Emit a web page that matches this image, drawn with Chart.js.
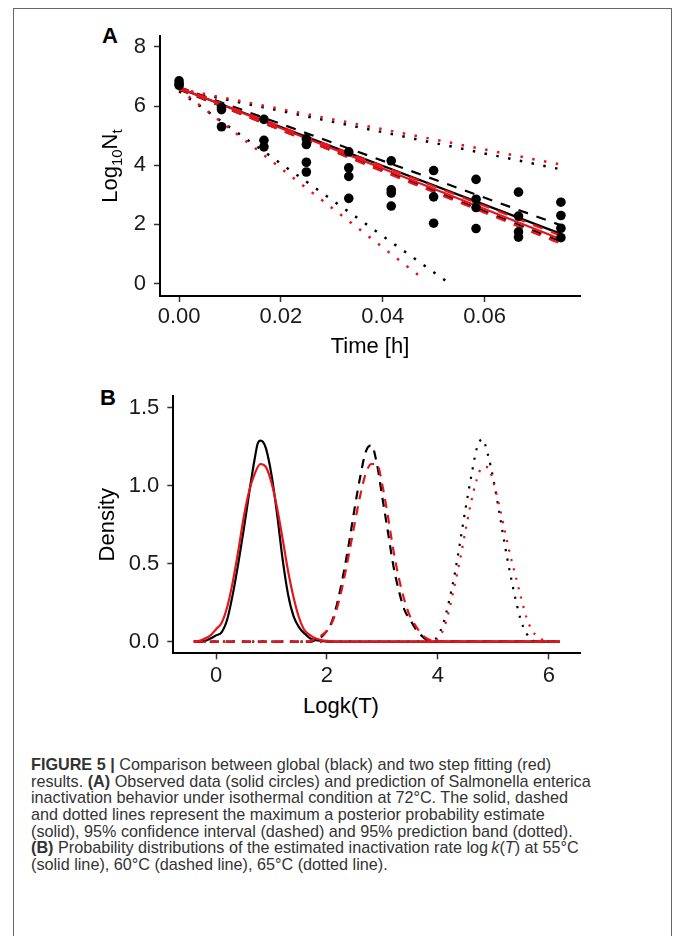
<!DOCTYPE html>
<html>
<head>
<meta charset="utf-8">
<script src="https://cdn.jsdelivr.net/npm/chart.js@4.4.1/dist/chart.umd.min.js"></script>
<style>
  body { margin: 0; background: #fff; font-family: 'Liberation Sans', Arial, sans-serif; }
  #frame { position: absolute; left: 13px; top: 8px; width: 657px; height: 940px; border: 1.5px solid #666; }
  canvas { position: absolute; }
  #chartA { left: 40px; top: 15px; }
  #chartB { left: 40px; top: 375px; }
  .panel { position: absolute; font-weight: bold; font-size: 22px; line-height: 1; color: #000; }
  #xTitleB { position: absolute; left: 241px; top: 693px; width: 200px; text-align: center; font-size: 22px; line-height: 26px; color: #000; }
  #caption { position: absolute; left: 31px; top: 756px; font-size: 16.2px; line-height: 16.65px; color: #333; white-space: nowrap; }
</style>
</head>
<body>
<div id="frame"></div>
<div class="panel" style="left:102px; top:25px;">A</div>
<div class="panel" style="left:100px; top:387px;">B</div>
<canvas id="chartA" width="560" height="350"></canvas>
<canvas id="chartB" width="560" height="315"></canvas>
<div id="xTitleB">Logk(T)</div>
<div id="caption">
<b>FIGURE 5 |</b> Comparison between global (black) and two step fitting (red)<br>
results. <b>(A)</b> Observed data (solid circles) and prediction of Salmonella enterica<br>
inactivation behavior under isothermal condition at 72°C. The solid, dashed<br>
and dotted lines represent the maximum a posterior probability estimate<br>
(solid), 95% confidence interval (dashed) and 95% prediction band (dotted).<br>
<b>(B)</b> Probability distributions of the estimated inactivation rate log&#8201;<i>k</i>(<i>T</i>) at 55°C<br>
(solid line), 60°C (dashed line), 65°C (dotted line).
</div>
<script>
// ---- panel A: observed data at 72°C ----
const obsTime = [0, 0, 0,
    0.00833, 0.00833, 0.00833,
    0.01667, 0.01667, 0.01667,
    0.025, 0.025, 0.025, 0.025,
    0.03333, 0.03333, 0.03333, 0.03333,
    0.04167, 0.04167, 0.04167, 0.04167,
    0.05, 0.05, 0.05,
    0.05833, 0.05833, 0.05833, 0.05833,
    0.06667, 0.06667, 0.06667, 0.06667,
    0.075, 0.075, 0.075, 0.075];
const obsLogN = [6.85, 6.75, 6.7,
    5.95, 5.88, 5.3,
    5.55, 4.84, 4.62,
    4.89, 4.7, 4.1, 3.77,
    4.45, 3.91, 3.62, 2.88,
    4.15, 3.17, 3.06, 2.62,
    3.82, 2.93, 2.04,
    3.52, 2.85, 2.57, 1.86,
    3.09, 2.28, 1.75, 1.57,
    2.75, 2.3, 1.87, 1.55];

// fitted lines (start and end of each line)
const fitTime = [0, 0.075];
const mapGlobal = [6.6, 1.68];
const mapTwoStep = [6.62, 1.5];
const ciGlobalUpper = [6.64, 1.97];
const ciGlobalLower = [6.56, 1.42];
const ciTwoStepUpper = [6.64, 1.62];
const ciTwoStepLower = [6.58, 1.35];
const pbGlobalUpper = [6.55, 3.86];
const pbTwoStepUpper = [6.58, 4.02];
const pbGlobalLowerTime = [0, 0.053];
const pbGlobalLower = [6.5, 0.02];
const pbTwoStepLowerTime = [0, 0.0472];
const pbTwoStepLower = [6.57, 0.26];

const timeTicks = [0, 0.02, 0.04, 0.06];
const logNTicks = [0, 2, 4, 6, 8];

// ---- panel B: densities of log k(T) ----
const solidGlobalX = [-0.4, -0.2, -0.1, 0, 0.1, 0.2, 0.3, 0.4, 0.5, 0.6, 0.7, 0.75, 0.8, 0.85, 0.9, 1.0, 1.1, 1.2, 1.3, 1.4, 1.5, 1.6, 1.7, 1.8, 1.9, 2.0, 6.2];
const solidGlobalY = [0, 0.005, 0.02, 0.04, 0.06, 0.14, 0.3, 0.5, 0.72, 0.96, 1.18, 1.27, 1.29, 1.28, 1.24, 1.07, 0.82, 0.53, 0.3, 0.16, 0.09, 0.05, 0.02, 0.01, 0.005, 0, 0];
const solidTwoStepX = [-0.4, -0.3, -0.2, -0.1, 0, 0.1, 0.2, 0.3, 0.4, 0.5, 0.6, 0.7, 0.8, 0.9, 1.0, 1.1, 1.2, 1.3, 1.4, 1.5, 1.6, 1.7, 1.8, 1.9, 2.0, 2.2, 6.2];
const solidTwoStepY = [0, 0.005, 0.02, 0.04, 0.08, 0.12, 0.22, 0.38, 0.58, 0.8, 0.97, 1.08, 1.14, 1.12, 1.02, 0.86, 0.66, 0.45, 0.28, 0.15, 0.07, 0.04, 0.02, 0.01, 0.005, 0, 0];
const dashedGlobalX = [-0.4, 1.7, 1.8, 1.9, 2.0, 2.1, 2.2, 2.3, 2.4, 2.5, 2.6, 2.7, 2.8, 2.9, 3.0, 3.1, 3.2, 3.3, 3.4, 3.5, 3.6, 3.7, 3.8, 3.9, 6.2];
const dashedGlobalY = [0, 0, 0.01, 0.03, 0.07, 0.14, 0.27, 0.44, 0.64, 0.86, 1.06, 1.22, 1.26, 1.14, 0.92, 0.7, 0.48, 0.32, 0.2, 0.14, 0.08, 0.04, 0.01, 0, 0];
const dashedTwoStepX = [-0.4, 1.6, 1.7, 1.8, 1.9, 2.0, 2.1, 2.2, 2.3, 2.4, 2.5, 2.6, 2.7, 2.8, 2.9, 3.0, 3.1, 3.2, 3.3, 3.4, 3.5, 3.6, 3.7, 3.8, 3.9, 4.0, 6.2];
const dashedTwoStepY = [0, 0, 0.005, 0.02, 0.04, 0.07, 0.13, 0.24, 0.39, 0.57, 0.76, 0.94, 1.08, 1.14, 1.14, 1.0, 0.8, 0.58, 0.4, 0.26, 0.16, 0.1, 0.05, 0.02, 0.005, 0, 0];
const dottedGlobalX = [-0.4, 3.9, 4.0, 4.1, 4.2, 4.3, 4.4, 4.5, 4.6, 4.7, 4.8, 4.9, 5.0, 5.1, 5.2, 5.3, 5.4, 5.5, 5.6, 5.7, 5.8, 6.2];
const dottedGlobalY = [0, 0, 0.04, 0.12, 0.26, 0.43, 0.64, 0.86, 1.06, 1.24, 1.3, 1.2, 1.04, 0.84, 0.63, 0.44, 0.27, 0.13, 0.05, 0.01, 0, 0];
const dottedTwoStepX = [-0.4, 3.9, 4.0, 4.1, 4.2, 4.3, 4.4, 4.5, 4.6, 4.7, 4.8, 4.9, 5.0, 5.1, 5.2, 5.3, 5.4, 5.5, 5.6, 5.7, 5.8, 5.9, 6.0, 6.2];
const dottedTwoStepY = [0, 0, 0.02, 0.08, 0.2, 0.36, 0.53, 0.72, 0.9, 1.04, 1.12, 1.12, 1.02, 0.88, 0.72, 0.56, 0.42, 0.28, 0.15, 0.07, 0.03, 0.01, 0, 0];

const logkTicks = [0, 2, 4, 6];
const densityTicks = [0, 0.5, 1.0, 1.5];

const RED = '#E8141B';
const BLACK = '#000000';
const FONT = "'Liberation Sans', Arial, sans-serif";

function zip(xs, ys) {
    return xs.map((x, i) => ({ x: x, y: ys[i] }));
}

function lineSet(xs, ys, color, dash, width) {
    return {
        data: zip(xs, ys),
        showLine: true,
        borderColor: color,
        borderWidth: width,
        borderDash: dash,
        pointRadius: 0,
        fill: false,
        cubicInterpolationMode: 'monotone'
    };
}

function axis(min, max, tickValues, fmt, extra) {
    return Object.assign({
        type: 'linear',
        min: min,
        max: max,
        afterBuildTicks: function (scale) {
            scale.ticks = tickValues.map(v => ({ value: v }));
        },
        ticks: {
            callback: fmt,
            color: '#1a1a1a',
            font: { family: FONT, size: 22 },
            autoSkip: false,
            maxRotation: 0
        },
        grid: { drawOnChartArea: false, drawTicks: true, tickLength: 6, tickWidth: 1.5, tickColor: '#333' },
        border: { display: true, color: '#000', width: 2 }
    }, extra);
}

// y title with subscripts for panel A
const subTitle = {
    id: 'subTitle',
    afterDraw(chart) {
        const ctx = chart.ctx;
        const parts = [['Log', 22, 0], ['10', 15, 5], ['N', 22, 0], ['t', 15, 5]];
        ctx.save();
        let total = 0;
        parts.forEach(p => { ctx.font = p[1] + 'px ' + FONT; total += ctx.measureText(p[0]).width; });
        ctx.translate(77, (chart.chartArea.top + chart.chartArea.bottom) / 2);
        ctx.rotate(-Math.PI / 2);
        ctx.fillStyle = '#000';
        ctx.textBaseline = 'alphabetic';
        let x = -total / 2;
        parts.forEach(p => {
            ctx.font = p[1] + 'px ' + FONT;
            ctx.fillText(p[0], x, p[2]);
            x += ctx.measureText(p[0]).width;
        });
        ctx.restore();
    }
};

new Chart(document.getElementById('chartA'), {
    type: 'scatter',
    data: {
        datasets: [
            { data: zip(obsTime, obsLogN), pointRadius: 4.8, pointBackgroundColor: BLACK, pointBorderWidth: 0, showLine: false },
            lineSet(fitTime, mapTwoStep, RED, [], 2.2),
            lineSet(fitTime, ciTwoStepUpper, RED, [10, 9], 2.2),
            lineSet(fitTime, ciTwoStepLower, RED, [10, 9], 2.2),
            lineSet(fitTime, pbTwoStepUpper, RED, [2.5, 9.5], 2.5),
            lineSet(pbTwoStepLowerTime, pbTwoStepLower, RED, [2.5, 9.5], 2.5),
            lineSet(fitTime, mapGlobal, BLACK, [], 2.2),
            lineSet(fitTime, ciGlobalUpper, BLACK, [10, 9], 2.2),
            lineSet(fitTime, ciGlobalLower, BLACK, [10, 9], 2.2),
            lineSet(fitTime, pbGlobalUpper, BLACK, [2.5, 9.5], 2.5),
            lineSet(pbGlobalLowerTime, pbGlobalLower, BLACK, [2.5, 9.5], 2.5)
        ]
    },
    options: {
        responsive: false,
        animation: false,
        devicePixelRatio: 1,
        layout: { padding: { left: 0, top: 12, right: 20, bottom: 4.4 } },
        plugins: { legend: { display: false }, tooltip: { enabled: false } },
        scales: {
            x: axis(-0.00375, 0.07875, timeTicks, v => v.toFixed(2), {
                afterFit: s => { s.height = 64.6; },
                title: { display: true, text: 'Time [h]', color: '#000', font: { family: FONT, size: 22 }, padding: { top: 0, bottom: 0 } }
            }),
            y: axis(-0.42, 8.36, logNTicks, v => String(v), {
                afterFit: s => { s.width = 120; }
            })
        }
    },
    plugins: [subTitle]
});
Chart.getChart('chartA').options.scales.x.ticks.padding = 2;
Chart.getChart('chartA').options.scales.y.ticks.padding = 8;
Chart.getChart('chartA').update();

new Chart(document.getElementById('chartB'), {
    type: 'scatter',
    data: {
        datasets: [
            lineSet(solidTwoStepX, solidTwoStepY, RED, [], 2.2),
            lineSet(dashedTwoStepX, dashedTwoStepY, RED, [9, 7], 2.2),
            lineSet(dottedTwoStepX, dottedTwoStepY, RED, [2.2, 7.5], 2.2),
            lineSet(solidGlobalX, solidGlobalY, BLACK, [], 2.2),
            lineSet(dashedGlobalX, dashedGlobalY, BLACK, [9, 7], 2.2),
            lineSet(dottedGlobalX, dottedGlobalY, BLACK, [2.2, 7.5], 2.2)
        ]
    },
    options: {
        responsive: false,
        animation: false,
        devicePixelRatio: 1,
        layout: { padding: { left: 0, top: 15, right: 20, bottom: 0 } },
        plugins: { legend: { display: false }, tooltip: { enabled: false } },
        scales: {
            x: axis(-0.77, 6.56, logkTicks, v => String(v), {
                afterFit: s => { s.height = 36.7; }
            }),
            y: axis(-0.075, 1.575, densityTicks, v => v.toFixed(1), {
                afterFit: s => { s.width = 133.3; },
                title: { display: true, text: 'Density', color: '#000', font: { family: FONT, size: 22 }, padding: { top: 55, bottom: 0 } }
            })
        }
    }
});
Chart.getChart('chartB').options.scales.x.ticks.padding = 3;
Chart.getChart('chartB').options.scales.y.ticks.padding = 8;
Chart.getChart('chartB').update();
</script>
</body>
</html>
